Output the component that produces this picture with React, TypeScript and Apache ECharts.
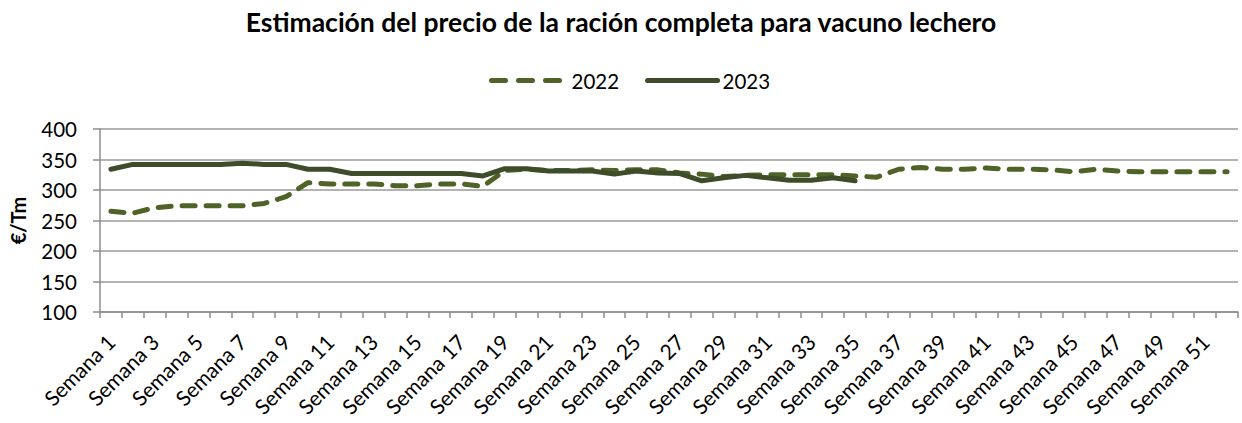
import React, { useEffect, useRef } from "react";
import * as echarts from "echarts";

const weeks: string[] = Array.from({ length: 52 }, (_, i) => `Semana ${i + 1}`);

const values2022: number[] = [
  265, 262, 271, 274, 274, 274, 274, 278, 289, 312,
  310, 310, 310, 307, 307, 310, 310, 306, 332, 334,
  332, 332, 333, 332, 333, 333, 328, 326, 322, 324,
  325, 325, 325, 325, 323, 321, 334, 337, 334, 334,
  336, 334, 334, 333, 330, 334, 331, 330, 330, 330,
  330, 330,
];

const values2023: number[] = [
  334, 342, 342, 342, 342, 342, 344, 342, 342, 334,
  334, 327, 327, 327, 327, 327, 327, 323, 335, 335,
  331, 331, 331, 326, 331, 328, 327, 315, 320, 324,
  320, 316, 316, 320, 315,
];

const yTicks = { min: 100, max: 400, interval: 50 };

const FONT = "Lato, 'Open Sans', sans-serif";
const C2022 = "#4F6228";
const C2023 = "#3E4C2A";

export default function App() {
  const ref = useRef<HTMLDivElement>(null);
  useEffect(() => {
    if (!ref.current) return;
    const chart = echarts.init(ref.current, null, { renderer: "svg" });
    chart.setOption({
      animation: false,
      backgroundColor: "#ffffff",
      title: {
        text: "Estimación del precio de la ración completa para vacuno lechero",
        left: "center",
        top: 3,
        textStyle: { fontFamily: FONT, fontWeight: "bold", fontSize: 26.5, color: "#000" },
      },
      legend: {
        top: 65,
        left: 484,
        itemWidth: 70,
        itemHeight: 14,
        itemGap: 26,
        itemStyle: { opacity: 0 },
        textStyle: { fontFamily: FONT, fontSize: 20.5, color: "#000" },
        data: [
          {
            name: "2022",
            lineStyle: { color: C2022, width: 5, type: [14, 13], cap: "round" },
            textStyle: { padding: [0, 0, 0, 5] },
          },
          { name: "2023", lineStyle: { color: C2023, width: 5, type: "solid", cap: "round" } },
        ],
      },
      grid: {
        left: 100,
        right: 4,
        top: 129,
        bottom: 111,
        containLabel: false,
        outerBoundsMode: "none",
      },
      xAxis: {
        type: "category",
        data: weeks,
        boundaryGap: true,
        axisLine: { show: true, lineStyle: { color: "#8c8c8c", width: 1.5 } },
        axisTick: { show: true, interval: 0, length: 6, lineStyle: { color: "#8c8c8c", width: 1.5 } },
        axisLabel: {
          interval: 1,
          rotate: 45,
          margin: 26,
          fontFamily: FONT,
          fontSize: 21,
          color: "#000",
        },
      },
      yAxis: {
        type: "value",
        min: yTicks.min,
        max: yTicks.max,
        interval: yTicks.interval,
        name: "€/Tm",
        nameLocation: "middle",
        nameRotate: 90,
        nameGap: 72,
        nameTextStyle: { fontFamily: FONT, fontWeight: "bold", fontSize: 20, color: "#000" },
        axisLine: { show: true, lineStyle: { color: "#8c8c8c", width: 1.5 } },
        axisTick: { show: true, length: 7, lineStyle: { color: "#8c8c8c", width: 1.5 } },
        axisLabel: { margin: 23, fontFamily: FONT, fontSize: 20.5, color: "#000" },
        splitLine: { show: true, lineStyle: { color: "#9a9a9a", width: 1.5 } },
      },
      series: [
        {
          name: "2022",
          type: "line",
          data: values2022,
          symbol: "circle",
          showSymbol: false,
          smooth: false,
          lineStyle: { color: C2022, width: 5, type: [13, 11], cap: "round", join: "round" },
          itemStyle: { color: C2022 },
          z: 2,
        },
        {
          name: "2023",
          type: "line",
          data: values2023,
          symbol: "circle",
          showSymbol: false,
          smooth: false,
          lineStyle: { color: C2023, width: 5, cap: "round", join: "round" },
          itemStyle: { color: C2023 },
          z: 3,
        },
      ],
    });
    return () => chart.dispose();
  }, []);
  return (
    <div
      ref={ref}
      style={{ position: "fixed", left: 0, top: 0, width: 1242, height: 423 }}
    />
  );
}
